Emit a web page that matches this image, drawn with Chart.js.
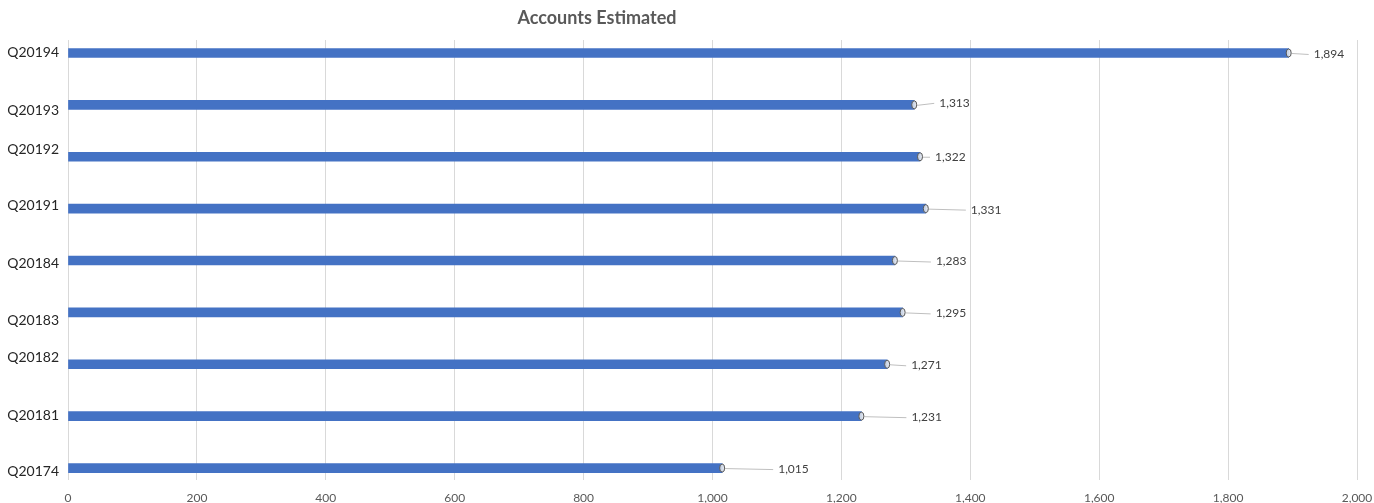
<!DOCTYPE html>
<html>
<head>
<meta charset="utf-8">
<script src="https://cdn.jsdelivr.net/npm/chart.js@4"></script>
<style>
  html, body { margin: 0; padding: 0; background: #fff; }
  #wrap { width: 1374px; height: 503px; position: relative; }
</style>
</head>
<body>
<div id="wrap"><canvas id="chart"></canvas></div>
<script>
// ── Data ─────────────────────────────────────────────────────────
const QUARTERS = ['Q20194', 'Q20193', 'Q20192', 'Q20191', 'Q20184',
                  'Q20183', 'Q20182', 'Q20181', 'Q20174'];
const ACCOUNTS = [1894, 1313, 1322, 1331, 1283, 1295, 1271, 1231, 1015];
const X_TICKS  = [0, 200, 400, 600, 800, 1000, 1200, 1400, 1600, 1800, 2000];

// label placement quirks copied from the original (px)
const VALUE_LABEL_DX = [25, 25, 15, 45, 41, 33, 24, 50, 56];
const VALUE_LABEL_DY = [1, -2, 0, 1, 1, 1, 1, 1, 1];
const CAT_LABEL_DY   = [0, 6, -7, -3, 3, 8, -7, -1, 3];

const FONT = 'Lato, "Noto Sans", sans-serif';
const fmt  = v => v.toLocaleString('en-US');

const overlay = {
  id: 'overlay',
  afterDatasetsDraw(chart) {
    const ctx  = chart.ctx;
    const yS   = chart.scales.y;
    const bars = chart.getDatasetMeta(0).data;

    ctx.save();
    // title
    ctx.fillStyle = '#595959';
    ctx.font = 'bold 18px ' + FONT;
    ctx.textAlign = 'center';
    ctx.textBaseline = 'middle';
    ctx.fillText('Accounts Estimated', 597, 18);

    // category labels
    ctx.fillStyle = '#262626';
    ctx.font = '14px ' + FONT;
    ctx.textAlign = 'right';
    QUARTERS.forEach((q, i) => {
      ctx.fillText(q, yS.left + yS.width - 9, yS.getPixelForValue(i) + CAT_LABEL_DY[i]);
    });

    // markers, leader lines, value labels
    ctx.font = '12px ' + FONT;
    ctx.textAlign = 'left';
    bars.forEach((bar, i) => {
      const lx = bar.x + VALUE_LABEL_DX[i];
      const ly = bar.y + VALUE_LABEL_DY[i];
      ctx.strokeStyle = '#bfbfbf';
      ctx.lineWidth = 1;
      ctx.beginPath();
      ctx.moveTo(bar.x + 3, bar.y + 0.5);
      ctx.lineTo(lx - 5, ly + 0.5);
      ctx.stroke();

      ctx.beginPath();
      ctx.ellipse(bar.x, bar.y, 2.5, 4, 0, 0, Math.PI * 2);
      ctx.fillStyle = 'rgba(220,225,235,0.9)';
      ctx.fill();
      ctx.strokeStyle = '#595959';
      ctx.stroke();

      ctx.fillStyle = '#404040';
      ctx.fillText(fmt(ACCOUNTS[i]), lx, ly);
    });
    ctx.restore();
  }
};

new Chart(document.getElementById('chart'), {
  type: 'bar',
  data: {
    datasets: [{
      label: 'Accounts Estimated',
      data: ACCOUNTS.map((v, i) => ({ x: v, y: i })),
      backgroundColor: '#4472C4',
      borderWidth: 0,
      barThickness: 9,
    }]
  },
  options: {
    indexAxis: 'y',
    responsive: true,
    maintainAspectRatio: false,
    animation: false,
    layout: { padding: { top: 40, right: 17, left: 0, bottom: 0 } },
    scales: {
      x: {
        type: 'linear',
        min: 0, max: 2000,
        afterBuildTicks: s => { s.ticks = X_TICKS.map(v => ({ value: v })); },
        afterFit: s => { s.height = 23; s.paddingLeft = 0; s.paddingRight = 0; },
        border: { display: false },
        grid: { color: '#d9d9d9', drawTicks: false },
        ticks: { color: '#595959', font: { family: FONT, size: 12 }, padding: 11, maxRotation: 0, callback: v => fmt(v) }
      },
      y: {
        type: 'linear',
        reverse: true,
        offset: false,
        min: -0.25, max: 8.23,
        afterFit: s => { s.width = 68; },
        border: { display: false },
        grid: { display: false, offset: false },
        ticks: { display: false }
      }
    },
    plugins: {
      legend: { display: false },
      tooltip: { enabled: false },
      title: { display: false }
    }
  },
  plugins: [overlay]
});
</script>
</body>
</html>
